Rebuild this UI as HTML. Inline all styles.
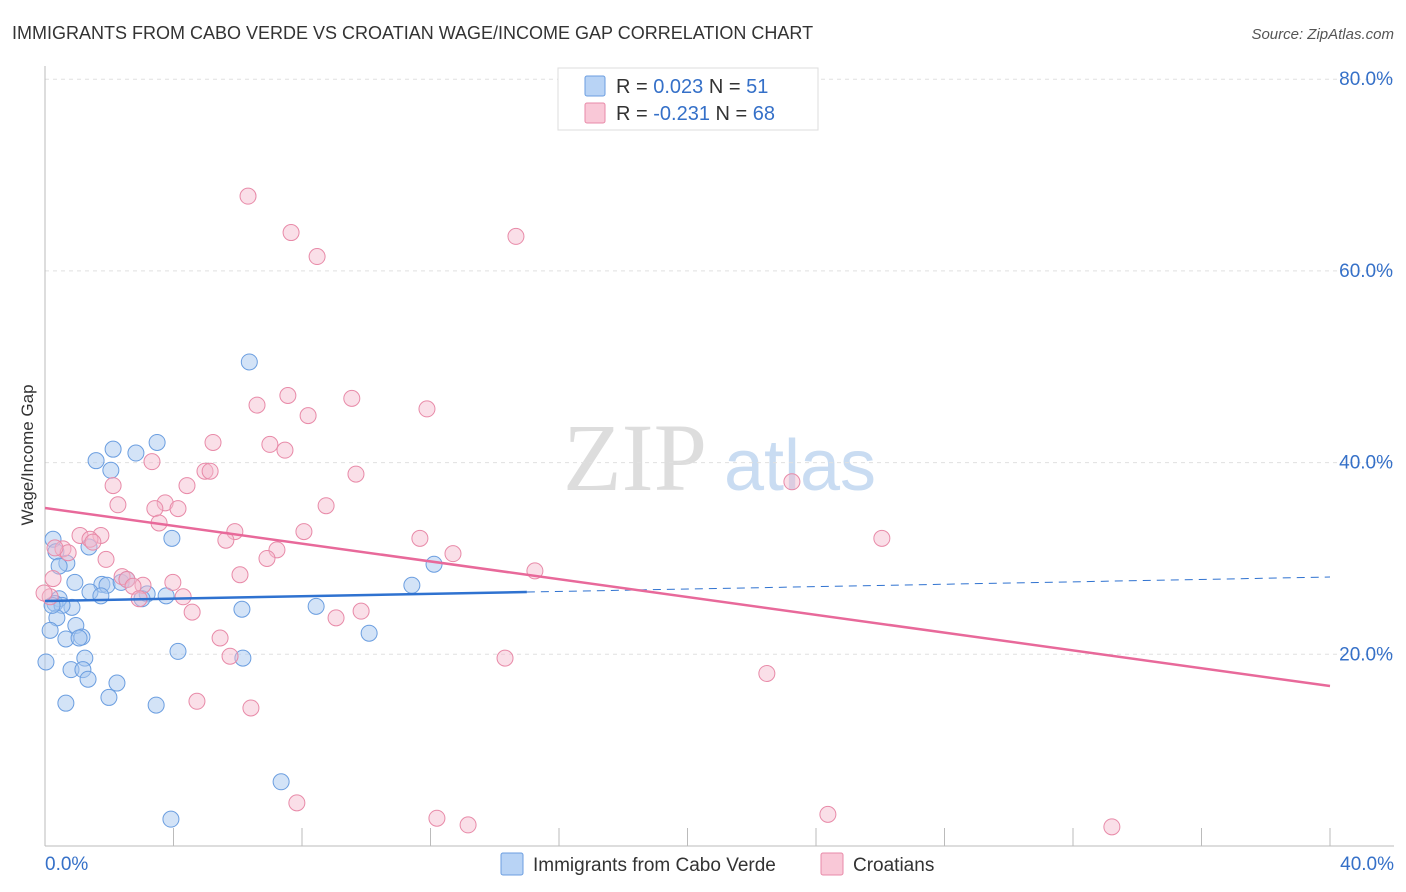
<!DOCTYPE html>
<html><head><meta charset="utf-8"><style>
body{margin:0;background:#fff;font-family:"Liberation Sans",sans-serif;}
svg{display:block}
</style></head><body>
<svg id="c" width="1406" height="892" xmlns="http://www.w3.org/2000/svg">
<text x="12" y="39" font-size="18" fill="#333">IMMIGRANTS FROM CABO VERDE VS CROATIAN WAGE/INCOME GAP CORRELATION CHART</text>
<text x="1394" y="39" font-size="15" fill="#555" font-style="italic" text-anchor="end">Source: ZipAtlas.com</text>
<text x="33" y="455" font-size="17" fill="#333" text-anchor="middle" transform="rotate(-90 33 455)">Wage/Income Gap</text>
<g><text x="635" y="490" font-size="96" fill="#ddd" font-family="Liberation Serif,serif" text-anchor="middle">ZIP</text><text x="800" y="490" font-size="72" fill="#c9dcf2" text-anchor="middle">atlas</text></g>
<g id="grid"></g><g id="marks"></g>
<g>
<rect x="558" y="68" width="260" height="62" fill="#fff" stroke="#ddd"/>
<rect x="585" y="76" width="20" height="20" fill="#b8d3f5" stroke="#6b9ee0" rx="2"/>
<rect x="585" y="103" width="20" height="20" fill="#f9c8d7" stroke="#e88aa8" rx="2"/>
<text x="616" y="93" font-size="20" fill="#333">R = <tspan fill="#3570c8">0.023</tspan>   N = <tspan fill="#3570c8">51</tspan></text>
<text x="616" y="120" font-size="20" fill="#333">R = <tspan fill="#3570c8">-0.231</tspan>   N = <tspan fill="#3570c8">68</tspan></text>
</g>
<g>
<rect x="501" y="853" width="22" height="22" fill="#b8d3f5" stroke="#6b9ee0" rx="2"/>
<text x="533" y="871" font-size="19" fill="#333">Immigrants from Cabo Verde</text>
<rect x="821" y="853" width="22" height="22" fill="#f9c8d7" stroke="#e88aa8" rx="2"/>
<text x="853" y="871" font-size="19" fill="#333">Croatians</text>
</g>
</svg>
<script>
const blueX=[6.36,3.49,2.12,2.83,1.59,2.05,0.25,3.95,1.37,0.34,0.68,0.44,12.11,0.93,1.77,1.93,2.37,2.55,11.42,1.40,1.74,3.18,3.77,3.02,0.44,0.31,0.84,0.53,6.13,8.44,0.37,0.96,0.16,10.09,1.15,0.65,1.06,4.14,1.24,6.16,0.03,0.81,1.18,1.34,2.24,1.99,0.65,3.46,7.35,3.92,0.22];
const blueY=[50.5,42.1,41.4,41.0,40.2,39.2,32.0,32.1,31.2,30.7,29.5,29.2,29.4,27.5,27.3,27.2,27.5,27.8,27.2,26.5,26.1,26.3,26.1,25.8,25.8,25.3,24.9,25.1,24.7,25.0,23.8,23.0,22.5,22.2,21.8,21.6,21.7,20.3,19.6,19.6,19.2,18.4,18.4,17.4,17.0,15.5,14.9,14.7,6.7,2.8,25.1];
const pinkX=[6.32,7.66,14.66,8.47,7.56,9.55,6.60,8.19,11.89,5.23,7.00,7.47,3.33,4.98,5.14,9.68,23.25,4.42,2.12,3.74,2.27,3.42,4.14,8.75,3.55,5.91,8.06,26.05,11.67,1.09,1.74,5.63,1.40,1.49,0.56,0.72,7.22,0.31,1.90,6.91,12.70,15.25,6.07,2.40,0.25,2.55,3.05,3.98,2.74,4.30,2.93,0.16,4.58,9.84,9.06,5.45,5.76,14.32,22.47,4.73,6.41,7.84,12.20,13.17,24.37,33.21,-0.03];
const pinkY=[67.8,64.0,63.6,61.5,47.0,46.7,46.0,44.9,45.6,42.1,41.9,41.3,40.1,39.1,39.1,38.8,38.0,37.6,37.6,35.8,35.6,35.2,35.2,35.5,33.7,32.8,32.8,32.1,32.1,32.4,32.4,31.9,32.0,31.7,31.0,30.6,30.9,31.1,29.9,30.0,30.5,28.7,28.3,28.1,27.9,27.8,27.2,27.5,27.1,26.0,25.8,26.0,24.4,24.5,23.8,21.7,19.8,19.6,18.0,15.1,14.4,4.5,2.9,2.2,3.3,2.0,26.4];
const yTicks=[20,40,60,80];
const xTickLabels=["0.0%","40.0%"];
const blueTrend=[25.56,28.06];
const pinkTrend=[35.26,16.69];
const sx=v=>45+v/40*1285, sy=v=>846-v*9.585;
const NS="http://www.w3.org/2000/svg";
const grid=document.getElementById('grid'), marks=document.getElementById('marks');
function mk(tag,attrs,parent){const e=document.createElementNS(NS,tag);for(const k in attrs)e.setAttribute(k,attrs[k]);parent.appendChild(e);return e;}
yTicks.forEach(t=>{
 const l=mk('line',{x1:45,x2:1394,y1:sy(t),y2:sy(t),stroke:'#e0e0e0','stroke-dasharray':'4,4'},grid);
 
 
 const tx=mk('text',{x:1393,y:sy(t)+6,'font-size':19,fill:'#3570c8','text-anchor':'end'},grid);
 tx.textContent=t.toFixed(1)+'%';
 
 
});
const ax=mk('line',{x1:45,x2:1394,y1:846,y2:846,stroke:'#bbb'},grid);


const ay=mk('line',{x1:45,x2:45,y1:66,y2:846,stroke:'#bbb'},grid);


for(let i=1;i<=10;i++){const t=mk('line',{x1:sx(i*4),x2:sx(i*4),y1:828,y2:846,stroke:'#bbb'},grid);
 
 }
[[0,'start',45],[40,'end',1394]].forEach((d,i)=>{const t=mk('text',{x:d[2],y:870,'font-size':19,fill:'#3570c8','text-anchor':d[1]},grid);t.textContent=xTickLabels[i];
 
 });
blueX.forEach((x,i)=>{const c=mk('circle',{cx:sx(x),cy:sy(blueY[i]),r:8,fill:'rgba(168,200,240,0.5)',stroke:'#6b9ee0','stroke-width':1},marks);
 
 });
pinkX.forEach((x,i)=>{const c=mk('circle',{cx:sx(x),cy:sy(pinkY[i]),r:8,fill:'rgba(245,184,203,0.45)',stroke:'#e88aa8','stroke-width':1},marks);
 
 });
const bAt=x=>blueTrend[0]+(blueTrend[1]-blueTrend[0])*x/40;
const b1=mk('line',{x1:sx(0),y1:sy(bAt(0)),x2:sx(15),y2:sy(bAt(15)),stroke:'#2f72d0','stroke-width':2.5},marks);


const b2=mk('line',{x1:sx(15),y1:sy(bAt(15)),x2:sx(40),y2:sy(bAt(40)),stroke:'#2f72d0','stroke-width':1,'stroke-dasharray':'8,6'},marks);


const p1=mk('line',{x1:sx(0),y1:sy(pinkTrend[0]),x2:sx(40),y2:sy(pinkTrend[1]),stroke:'#e8699a','stroke-width':2.5},marks);


</script>
</body></html>
